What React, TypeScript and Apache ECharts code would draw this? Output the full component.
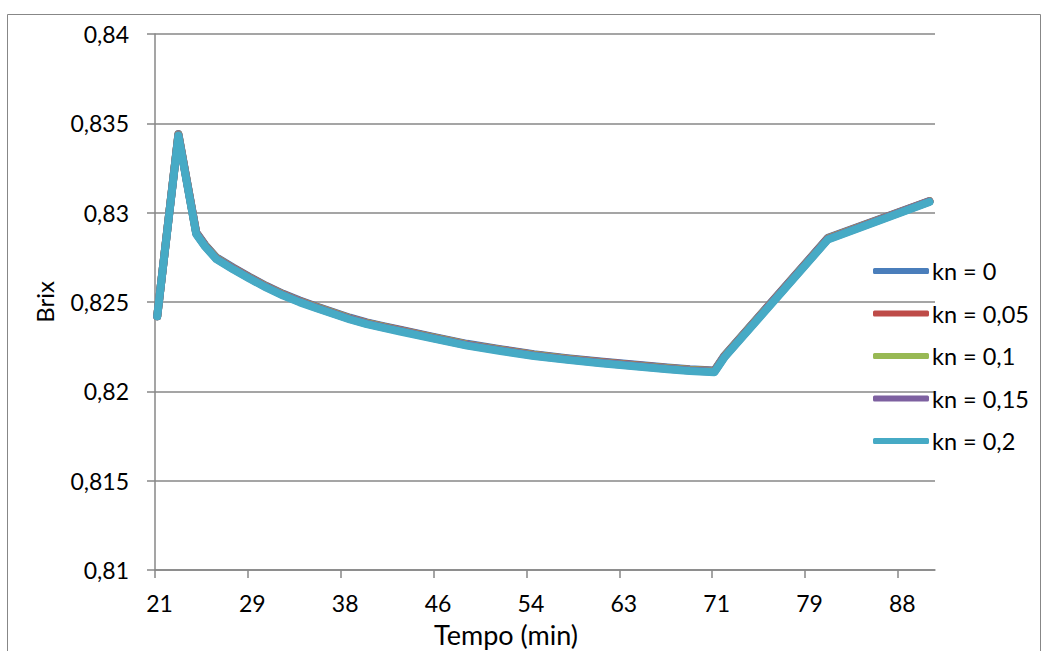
import React, { useEffect, useRef } from 'react';
import * as echarts from 'echarts';

// Time (min) of each sampled point
const times = [21.2, 23.1, 24.7, 25.5, 26.5, 28, 29.5, 31, 32.5, 34, 35.5, 38.5, 40, 41.5, 43, 46, 49, 52, 55, 58, 61, 64, 67, 69, 71.2, 72.1, 81.4, 90.5];

// Brix values per series
const kn0 = [0.8242, 0.8344, 0.8289, 0.8282, 0.8275, 0.82693, 0.8264, 0.8259, 0.82546, 0.82508, 0.82475, 0.82412, 0.82386, 0.82365, 0.82345, 0.82305, 0.82266, 0.82236, 0.82208, 0.82186, 0.82167, 0.8215, 0.82134, 0.82124, 0.82117, 0.822, 0.8286, 0.83065];
const kn005 = [0.8242, 0.83438, 0.82887, 0.82817, 0.82747, 0.8269, 0.82637, 0.82587, 0.82543, 0.82505, 0.82472, 0.82409, 0.82383, 0.82362, 0.82342, 0.82302, 0.82263, 0.82233, 0.82205, 0.82183, 0.82164, 0.82147, 0.82131, 0.82121, 0.82114, 0.82197, 0.82857, 0.83064];
const kn01 = [0.8242, 0.83436, 0.82885, 0.82815, 0.82745, 0.82688, 0.82635, 0.82585, 0.82541, 0.82503, 0.8247, 0.82407, 0.82381, 0.8236, 0.8234, 0.823, 0.82261, 0.82231, 0.82203, 0.82181, 0.82162, 0.82145, 0.82129, 0.82119, 0.82112, 0.82195, 0.82855, 0.83063];
const kn015 = [0.8242, 0.83433, 0.82883, 0.82813, 0.82743, 0.82686, 0.82633, 0.82583, 0.82539, 0.82501, 0.82468, 0.82405, 0.82379, 0.82358, 0.82338, 0.82298, 0.82259, 0.82229, 0.82201, 0.82179, 0.8216, 0.82143, 0.82127, 0.82117, 0.8211, 0.82193, 0.82853, 0.83062];
const kn02 = [0.8242, 0.8343, 0.8288, 0.8281, 0.8274, 0.82683, 0.8263, 0.8258, 0.82536, 0.82498, 0.82465, 0.82402, 0.82376, 0.82355, 0.82335, 0.82295, 0.82256, 0.82226, 0.82198, 0.82176, 0.82157, 0.8214, 0.82124, 0.82114, 0.82107, 0.8219, 0.8285, 0.8306];

const seriesNames = ['kn = 0', 'kn = 0,05', 'kn = 0,1', 'kn = 0,15', 'kn = 0,2'];
const seriesValues = [kn0, kn005, kn01, kn015, kn02];
const seriesColors = ['#4A7EBB', '#BE4B48', '#98B954', '#7D60A0', '#46AAC5'];

// X tick positions and their labels
const xTickValues = [21, 29.333, 37.667, 46, 54.333, 62.667, 71, 79.333, 87.667];
const xTickLabels = ['21', '29', '38', '46', '54', '63', '71', '79', '88'];

const FONT = 'Lato';
const GRAY = '#878787';

export default function App() {
  const ref = useRef<HTMLDivElement>(null);
  useEffect(() => {
    const chart = echarts.init(ref.current!, null, { renderer: 'svg' });
    chart.setOption({
      animation: false,
      backgroundColor: '#ffffff',
      textStyle: { fontFamily: FONT },
      grid: { left: 155, right: 117, top: 34, bottom: 81, containLabel: false, outerBoundsMode: 'none' },
      legend: {
        orient: 'vertical',
        left: 868,
        top: 251,
        icon: 'roundRect',
        itemWidth: 56,
        itemHeight: 6,
        itemGap: 12.5,
        selectedMode: false,
        data: seriesNames,
        textStyle: { fontFamily: FONT, fontSize: 23.5, color: '#000', lineHeight: 30, padding: [0, 0, 0, -2] },
      },
      xAxis: {
        type: 'value',
        min: 21,
        max: 91,
        axisLine: { show: true, lineStyle: { color: GRAY, width: 1.5 } },
        axisTick: { show: true, length: 8, lineStyle: { color: GRAY, width: 1.5 }, customValues: xTickValues },
        splitLine: { show: false },
        axisLabel: {
          customValues: xTickValues,
          margin: 21,
          fontFamily: FONT,
          fontSize: 23,
          color: '#000',
          padding: [0, 0, 0, 9],
          formatter: (v: number) => {
            let best = 0;
            for (let i = 0; i < xTickValues.length; i++) {
              if (Math.abs(xTickValues[i] - v) < Math.abs(xTickValues[best] - v)) best = i;
            }
            return xTickLabels[best];
          },
        },
      },
      yAxis: {
        type: 'value',
        min: 0.81,
        max: 0.84,
        interval: 0.005,
        axisLine: { show: true, lineStyle: { color: GRAY, width: 1.5 } },
        axisTick: { show: true, length: 8, lineStyle: { color: GRAY, width: 1.5 } },
        splitLine: { show: true, lineStyle: { color: GRAY, width: 1.5 } },
        axisLabel: {
          margin: 26,
          fontFamily: FONT,
          fontSize: 23,
          color: '#000',
          formatter: (v: number) => String(Math.round(v * 1000) / 1000).replace('.', ','),
        },
      },
      graphic: [
        {
          type: 'rect',
          shape: { x: 7.5, y: 14.5, width: 1033, height: 660 },
          style: { fill: 'none', stroke: GRAY, lineWidth: 1 },
          silent: true,
        },
        {
          type: 'text',
          x: 506,
          y: 634,
          style: { text: 'Tempo (min)', fontFamily: FONT, fontSize: 27, fill: '#000', textAlign: 'center', textVerticalAlign: 'middle' },
        },
        {
          type: 'text',
          x: 44,
          y: 302,
          rotation: Math.PI / 2,
          style: { text: 'Brix', fontFamily: FONT, fontSize: 24, fill: '#000', textAlign: 'center', textVerticalAlign: 'middle' },
        },
      ],
      series: seriesNames.map((name, i) => ({
        name,
        type: 'line',
        data: times.map((t, j) => [t, seriesValues[i][j]]),
        showSymbol: false,
        symbol: 'none',
        color: seriesColors[i],
        lineStyle: { width: 8, color: seriesColors[i], cap: 'round', join: 'round' },
        emphasis: { disabled: true },
      })),
    });
    return () => chart.dispose();
  }, []);
  return (
    <div
      ref={ref}
      style={{ position: 'fixed', left: 0, top: 0, width: 1052, height: 651, background: '#fff' }}
    />
  );
}
